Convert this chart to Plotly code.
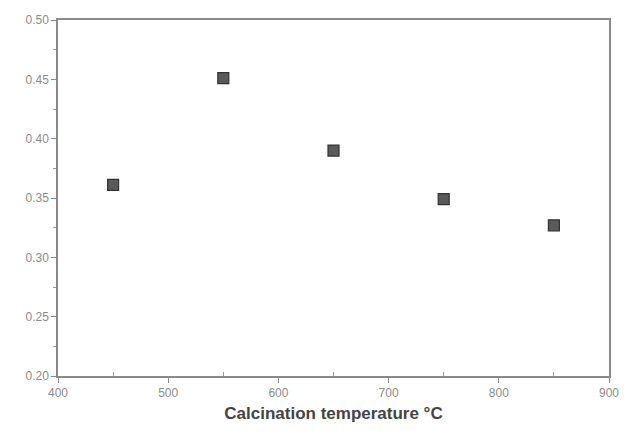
import plotly.graph_objects as go

temperature = [450, 550, 650, 750, 850]
values = [0.361, 0.451, 0.390, 0.349, 0.327]

fig = go.Figure()
fig.add_trace(go.Scatter(
    x=temperature, y=values, mode="markers",
    marker=dict(symbol="square", size=11, color="#5a5a5a",
                line=dict(color="#333333", width=1.2)),
    showlegend=False,
))

axis_common = dict(
    showgrid=False, zeroline=False, showline=True, mirror=True,
    linecolor="#8a8a8a", linewidth=1.5,
    ticks="outside", ticklen=5, tickcolor="#8a8a8a", tickwidth=1,
    tickfont=dict(family="Liberation Sans", size=12, color="#8c8c8c"),
    automargin=False,
)

fig.update_xaxes(
    range=[400, 900], tickvals=[400, 500, 600, 700, 800, 900],
    minor=dict(tickvals=[450, 550, 650, 750, 850], ticks="inside", ticklen=4, tickcolor="#9a9a9a"),
    title=dict(text="<b>Calcination temperature °C</b>",
               font=dict(family="Liberation Sans", size=17, color="#444444"), standoff=8),
    **axis_common,
)
fig.update_yaxes(
    range=[0.20, 0.50], tickvals=[0.20, 0.25, 0.30, 0.35, 0.40, 0.45, 0.50],
    ticktext=["0.20", "0.25", "0.30", "0.35", "0.40", "0.45", "0.50"],
    minor=dict(tickvals=[0.225, 0.275, 0.325, 0.375, 0.425, 0.475], ticks="outside", ticklen=3, tickcolor="#9a9a9a"),
    **axis_common,
)

fig.update_layout(
    width=624, height=431,
    margin=dict(l=58, r=15, t=20, b=55),
    plot_bgcolor="white", paper_bgcolor="white",
    font=dict(family="Liberation Sans"),
)

fig.write_html("out.html", config={"displayModeBar": False},
               post_script="document.body.style.margin='0';")
